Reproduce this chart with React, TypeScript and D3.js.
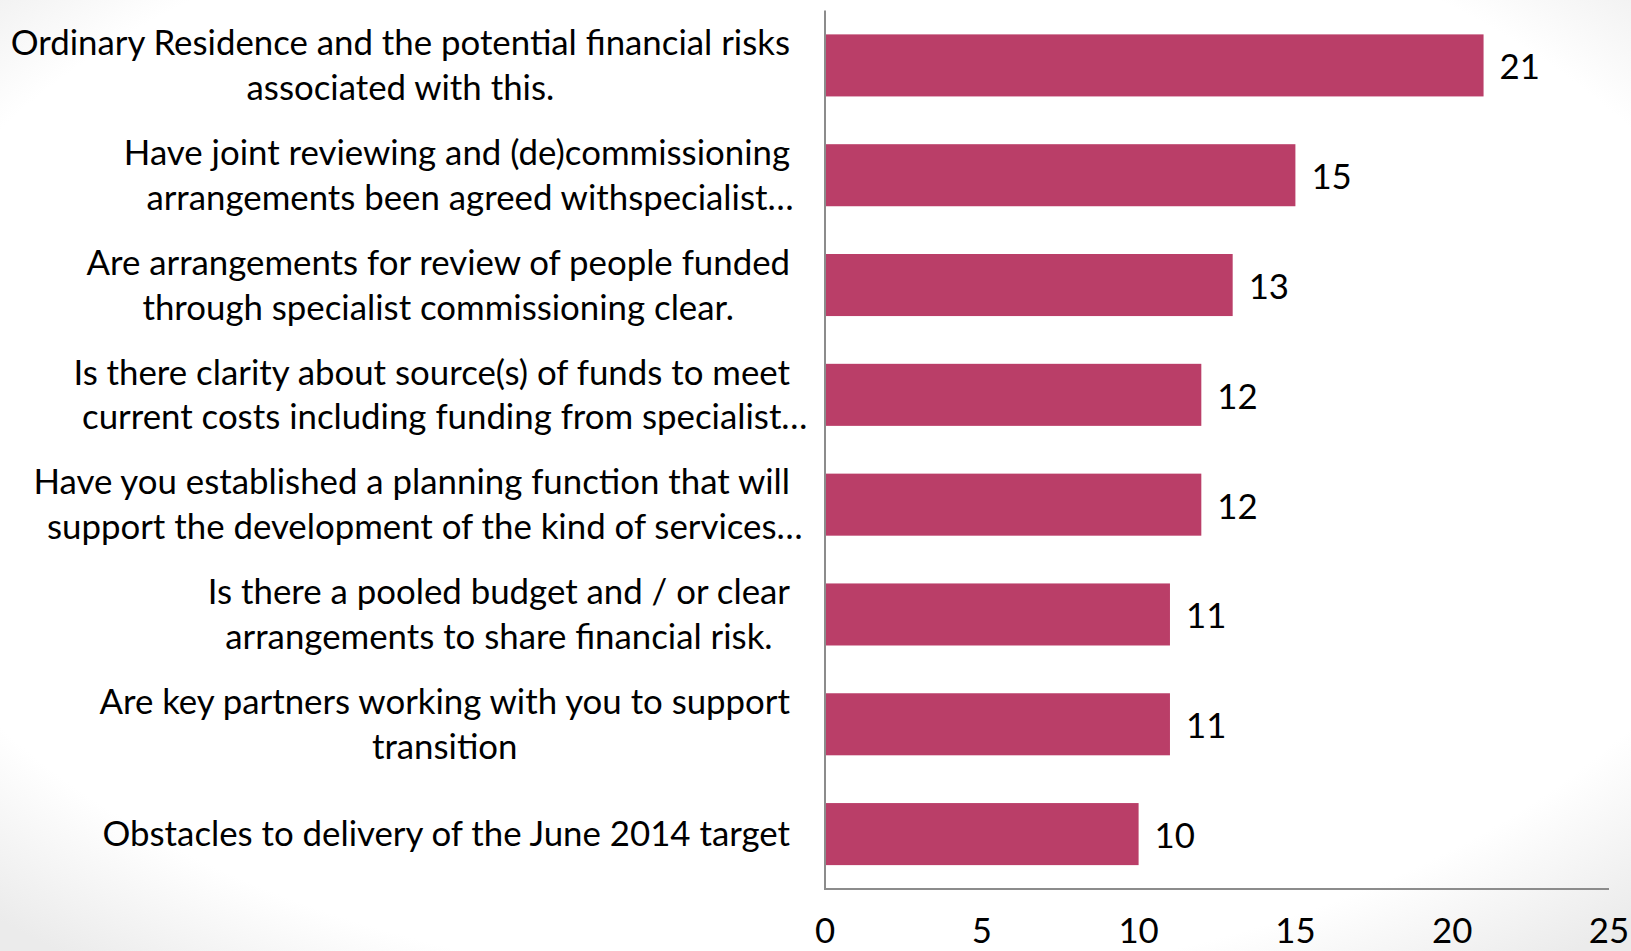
import React, { useEffect, useRef } from "react";
import * as d3 from "d3";

const categoryLines: string[][] = [
  ["Ordinary Residence and the potential financial risks", "associated with this."],
  ["Have joint reviewing and (de)commissioning", "arrangements been agreed withspecialist…"],
  ["Are arrangements for review of people funded", "through specialist commissioning clear."],
  ["Is there clarity about source(s) of funds to meet", "current costs including funding from specialist…"],
  ["Have you established a planning function that will", "support the development of the kind of services…"],
  ["Is there a pooled budget and / or clear", "arrangements to share financial risk."],
  ["Are key partners working with you to support", "transition"],
  ["Obstacles to delivery of the June 2014 target"],
];
const values: number[] = [21, 15, 13, 12, 12, 11, 11, 10];
const tickValues: number[] = [0, 5, 10, 15, 20, 25];

const W = 1631;
const H = 951;
const FONT = "Lato, 'Open Sans', sans-serif";

export default function App() {
  const ref = useRef<SVGSVGElement | null>(null);

  useEffect(() => {
    const svg = d3.select(ref.current);
    svg.selectAll("*").remove();

    const left = 825;
    const right = 1609;
    const top = 10.5;
    const bottom = 889;
    const fontSize = 34.8;

    const defs = svg.append("defs");
    const rg = defs
      .append("radialGradient")
      .attr("id", "bg")
      .attr("cx", "50%")
      .attr("cy", "45%")
      .attr("r", "72%");
    rg.append("stop").attr("offset", "0%").attr("stop-color", "#ffffff");
    rg.append("stop").attr("offset", "82%").attr("stop-color", "#ffffff");
    rg.append("stop").attr("offset", "100%").attr("stop-color", "#ebebeb");
    svg.append("rect").attr("width", W).attr("height", H).attr("fill", "url(#bg)");

    const x = d3.scaleLinear().domain([0, 25]).range([left, right]);
    const y = d3
      .scaleBand<number>()
      .domain(d3.range(values.length))
      .range([top, bottom])
      .paddingInner(0.435)
      .paddingOuter(0.2175);

    // bars
    svg
      .append("g")
      .selectAll("rect")
      .data(values)
      .join("rect")
      .attr("x", x(0))
      .attr("y", (_, i) => y(i)!)
      .attr("width", (d) => x(d) - x(0))
      .attr("height", y.bandwidth())
      .attr("fill", "#BA3E68");

    // value labels
    svg
      .append("g")
      .selectAll("text")
      .data(values)
      .join("text")
      .attr("x", (d) => x(d) + 16)
      .attr("y", (_, i) => y(i)! + y.bandwidth() / 2)
      .attr("dy", "0.4em")
      .attr("font-family", FONT)
      .attr("font-size", fontSize)
      .attr("fill", "#000")
      .text((d) => d);

    // axes lines
    svg
      .append("line")
      .attr("x1", left)
      .attr("x2", left)
      .attr("y1", top)
      .attr("y2", bottom)
      .attr("stroke", "#8c8c8c")
      .attr("stroke-width", 2);
    svg
      .append("line")
      .attr("x1", left - 1)
      .attr("x2", right)
      .attr("y1", bottom)
      .attr("y2", bottom)
      .attr("stroke", "#8c8c8c")
      .attr("stroke-width", 2);

    // tick labels
    svg
      .append("g")
      .selectAll("text")
      .data(tickValues)
      .join("text")
      .attr("x", (d) => x(d))
      .attr("y", 943)
      .attr("text-anchor", "middle")
      .attr("font-family", FONT)
      .attr("font-size", fontSize)
      .attr("fill", "#000")
      .text((d) => d);

    // category labels
    const labelRight = 790;
    const lineGap = 44.8;
    const gLab = svg.append("g");
    categoryLines.forEach((lines, i) => {
      const cy = y(i)! + y.bandwidth() / 2;
      const bases = lines.map((l) => l.replace(/…$/, ""));
      const widths = bases.map((b) => {
        const t = gLab
          .append("text")
          .attr("font-family", FONT)
          .attr("font-size", fontSize)
          .text(b);
        const w = (t.node() as SVGTextElement).getComputedTextLength();
        t.remove();
        return w;
      });
      const maxW = Math.max(...widths);
      const center = labelRight - maxW / 2;
      lines.forEach((l, j) => {
        const ly = cy + (j - (lines.length - 1) / 2) * lineGap;
        gLab
          .append("text")
          .attr("x", center - widths[j] / 2)
          .attr("y", ly)
          .attr("dy", "0.35em")
          .attr("font-family", FONT)
          .attr("font-size", fontSize)
          .attr("fill", "#000")
          .text(l);
      });
    });
  }, []);

  return (
    <svg
      ref={ref}
      width={W}
      height={H}
      style={{ position: "absolute", left: 0, top: 0, display: "block" }}
    />
  );
}
